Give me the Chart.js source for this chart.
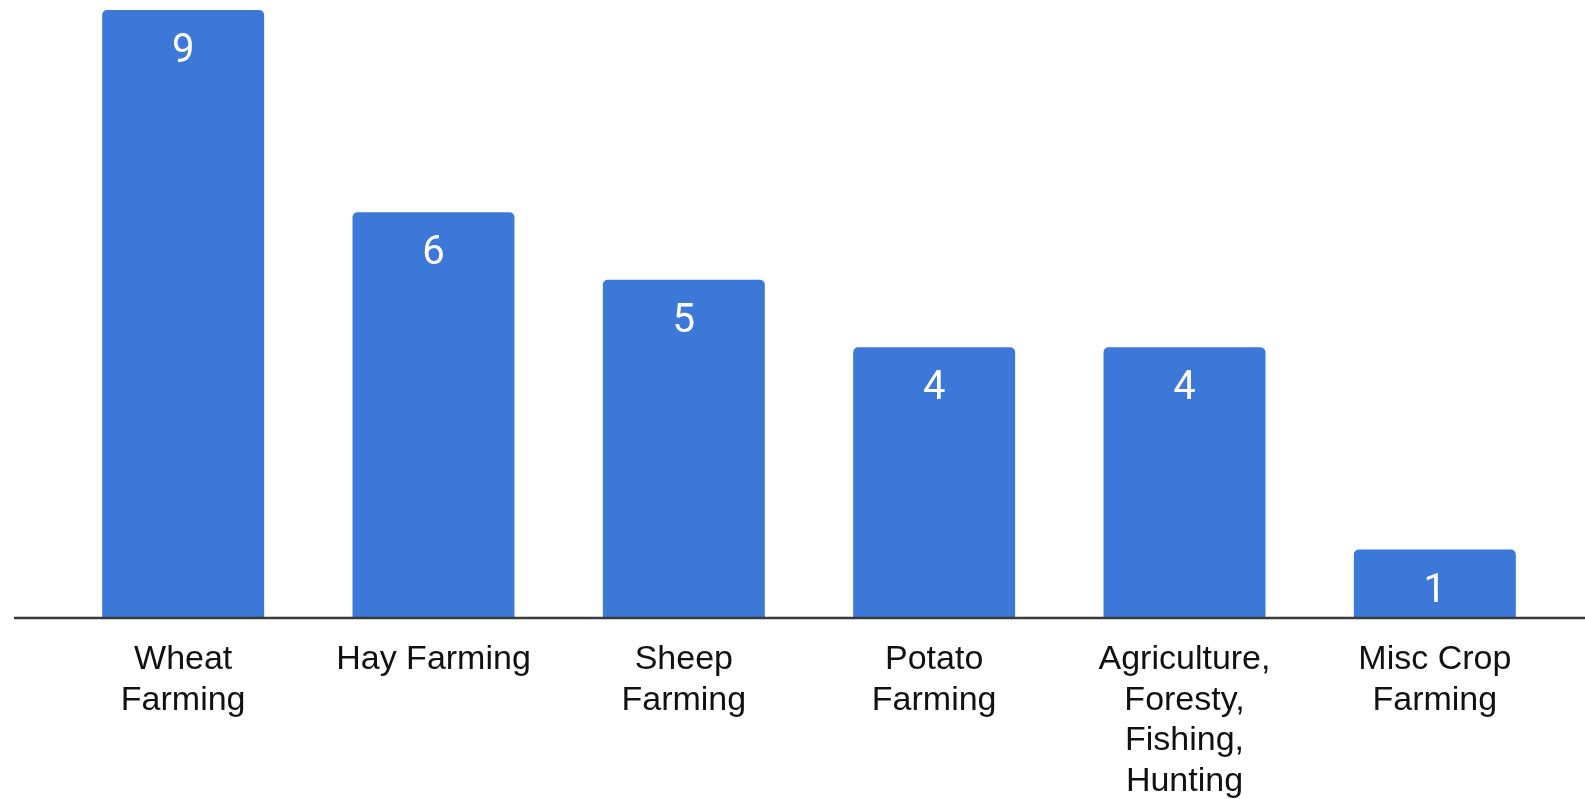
<!DOCTYPE html>
<html>
<head>
<meta charset="utf-8">
<script src="https://cdn.jsdelivr.net/npm/chart.js@4"></script>
<style>
  html, body { margin: 0; padding: 0; background: #fff; }
  #wrap { width: 1585px; height: 799px; position: relative; }
</style>
</head>
<body>
<div id="wrap"><canvas id="chart"></canvas></div>
<script>
const categories = [
    ['Wheat', 'Farming'],
    'Hay Farming',
    ['Sheep', 'Farming'],
    ['Potato', 'Farming'],
    ['Agriculture,', 'Foresty,', 'Fishing,', 'Hunting'],
    ['Misc Crop', 'Farming']
];
const counts = [9, 6, 5, 4, 4, 1];
const yMin = 0;
const yMax = 9;

// white value labels inside the top of each bar
const valueLabels = {
    id: 'valueLabels',
    afterDatasetsDraw(chart) {
        const ctx = chart.ctx;
        const meta = chart.getDatasetMeta(0);
        ctx.save();
        ctx.fillStyle = '#ffffff';
        ctx.font = '40px Roboto';
        ctx.textAlign = 'center';
        ctx.textBaseline = 'middle';
        meta.data.forEach((bar, i) => {
            ctx.fillText(String(counts[i]), bar.x, bar.y + 42);
        });
        ctx.restore();
    }
};

// baseline runs wider than the plot area
const baseLine = {
    id: 'baseLine',
    afterDatasetsDraw(chart) {
        const ctx = chart.ctx;
        const y = Math.round(chart.scales.y.getPixelForValue(0)) + 1;
        ctx.save();
        ctx.strokeStyle = '#3a3a3a';
        ctx.lineWidth = 2.5;
        ctx.beginPath();
        ctx.moveTo(14, y);
        ctx.lineTo(chart.width, y);
        ctx.stroke();
        ctx.restore();
    }
};

const ctx = document.getElementById('chart').getContext('2d');

const chart = new Chart(ctx, {
    type: 'bar',
    data: {
        labels: categories,
        datasets: [{
            data: counts,
            backgroundColor: '#3c78d8',
            borderRadius: 5,
            borderSkipped: 'start',
            categoryPercentage: 1,
            barPercentage: 0.647
        }]
    },
    options: {
        responsive: true,
        maintainAspectRatio: false,
        animation: false,
        layout: { padding: { top: 10, left: 58, right: 25, bottom: 0 } },
        plugins: {
            legend: { display: false },
            tooltip: { enabled: false }
        },
        scales: {
            x: {
                grid: { display: false, drawTicks: false },
                border: { display: false },
                ticks: {
                    color: '#111',
                    font: { family: "Arial, 'Liberation Sans', sans-serif", size: 34, lineHeight: 1.2 },
                    padding: 22,
                    maxRotation: 0,
                    autoSkip: false
                },
                afterFit: s => { s.height = 182; }
            },
            y: {
                display: false,
                min: yMin,
                max: yMax
            }
        }
    },
    plugins: [valueLabels, baseLine]
});
</script>
</body>
</html>
